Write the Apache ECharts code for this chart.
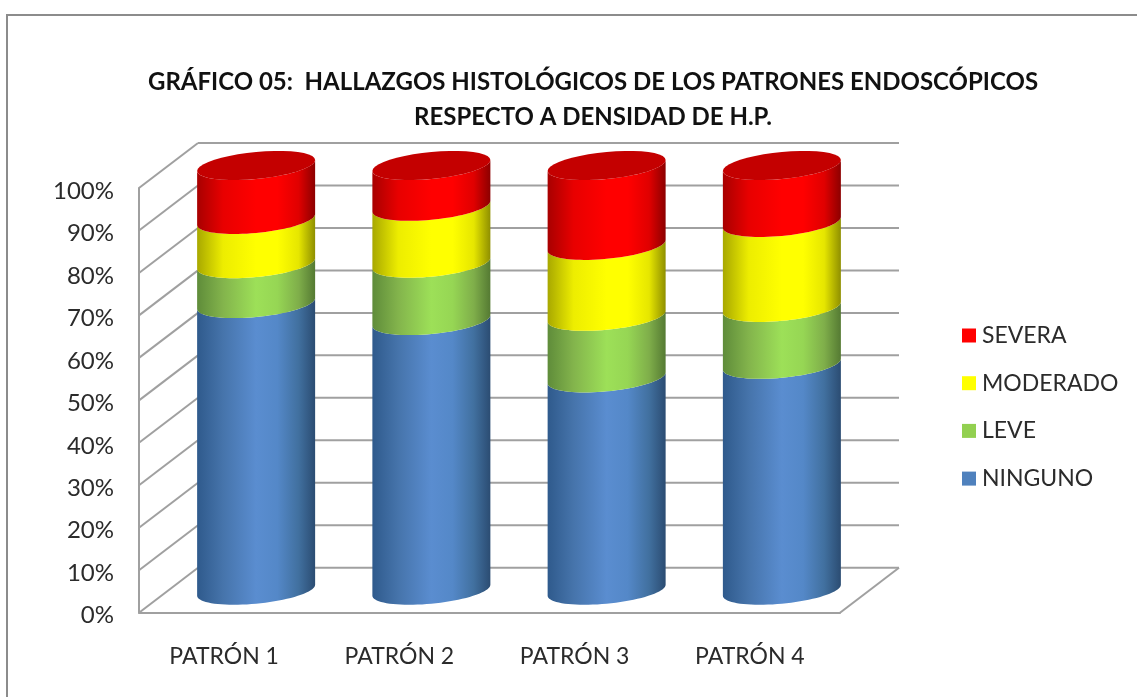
<!DOCTYPE html>
<html>
<head>
<meta charset="utf-8">
<title>Gráfico 05</title>
<style>
  html, body { margin: 0; padding: 0; background: #fff; }
  #chart { width: 1137px; height: 697px; }
</style>
</head>
<body>
<div id="chart"></div>
<script src="https://cdn.jsdelivr.net/npm/echarts@6/dist/echarts.min.js"></script>
<script>
const categories = ['PATRÓN 1', 'PATRÓN 2', 'PATRÓN 3', 'PATRÓN 4']
const ninguno = [67.5, 63.5, 50.0, 53.2]
const leve = [9.4, 13.5, 14.5, 13.4]
const moderado = [10.4, 13.4, 16.7, 20.0]
const severa = [12.7, 9.6, 18.8, 13.4]
const gridTicks = [0, 10, 20, 30, 40, 50, 60, 70, 80, 90, 100]

// profundidad del piso 3D en px
const depthX = 59
const depthY = 45
const wallColor = '#a0a0a0'
const fontName = 'Lato'
const textColor = '#2b2b2b'

// [nombre, valores, color leyenda, degradado del cilindro]
const stackDefs = [
  ['NINGUNO', ninguno, '#4f81bd', ['#2f5a8c', '#4674ab', '#5a8dd0', '#5488c8', '#41709f', '#2b4c72']],
  ['LEVE', leve, '#92d050', ['#5f8c3a', '#83b44c', '#9de058', '#96d654', '#7fae4a', '#557a33']],
  ['MODERADO', moderado, '#ffff00', ['#a8a800', '#eded00', '#ffff00', '#ffff00', '#e6e600', '#8f8f00']],
  ['SEVERA', severa, '#ff0000', ['#a80000', '#e80000', '#ff0000', '#ff0000', '#e00000', '#8c0000']]
]
const gradOffsets = [0, 0.22, 0.5, 0.68, 0.86, 1]

const ellipseA = 59
const ellipseB = 13.5
const ellipseC = -5.5

const arcPoints = (cx, cy, from, to) => {
  const pts = []
  const n = 40
  for (let i = 0; i <= n; i++) {
    const t = from + ((to - from) * i) / n
    pts.push([
      cx + ellipseA * Math.cos(t),
      cy + ellipseB * Math.sin(t) + ellipseC * Math.cos(t)
    ])
  }
  return pts
}

const renderCylinder = (def, isTop) => (params, api) => {
  const low = api.coord([api.value(0), api.value(1)])
  const high = api.coord([api.value(0), api.value(2)])
  const cx = low[0] + depthX / 2
  const cy0 = low[1] - depthY / 2
  const cy1 = high[1] - depthY / 2
  const children = [
    {
      type: 'polygon',
      shape: { points: arcPoints(cx, cy1, 0, Math.PI).concat(arcPoints(cx, cy0, Math.PI, 0)) },
      style: {
        fill: {
          type: 'linear', x: 0, y: 0, x2: 1, y2: 0,
          colorStops: def[3].map((c, i) => ({ offset: gradOffsets[i], color: c }))
        }
      }
    }
  ]
  if (isTop) {
    children.push({
      type: 'polygon',
      shape: { points: arcPoints(cx, cy1, 0, Math.PI * 2) },
      style: { fill: '#c40000' }
    })
  }
  return { type: 'group', children }
}

const renderWall = (params, api) => {
  const sys = params.coordSys
  const y = api.coord([0, api.value(1)])[1]
  const lineStyle = { stroke: wallColor, lineWidth: 2 }
  const children = [
    {
      type: 'line',
      shape: { x1: sys.x, y1: y, x2: sys.x + depthX, y2: y - depthY },
      style: lineStyle
    },
    {
      type: 'line',
      shape: { x1: sys.x + depthX, y1: y - depthY, x2: sys.x + sys.width + depthX, y2: y - depthY },
      style: lineStyle
    }
  ]
  if (api.value(1) === 0) {
    children.push({
      type: 'line',
      shape: { x1: sys.x + sys.width, y1: y, x2: sys.x + sys.width + depthX, y2: y - depthY },
      style: lineStyle
    })
  }
  return { type: 'group', children }
}

const running = categories.map(() => 0)
const cylinderSeries = stackDefs.map((def, s) => ({
  name: def[0],
  type: 'custom',
  color: def[2],
  z: 3 + s,
  silent: true,
  encode: { x: 0, y: [1, 2] },
  renderItem: renderCylinder(def, s === stackDefs.length - 1),
  data: def[1].map((v, i) => {
    const base = running[i]
    running[i] = base + v
    return [i, base, running[i]]
  })
}))

const chart = echarts.init(document.getElementById('chart'), null, { renderer: 'canvas' })
chart.setOption({
  animation: false,
  backgroundColor: '#fff',
  title: {
    text: 'GRÁFICO 05:  HALLAZGOS HISTOLÓGICOS DE LOS PATRONES ENDOSCÓPICOS\nRESPECTO A DENSIDAD DE H.P.',
    left: 588,
    top: 60,
    textAlign: 'center',
    textStyle: {
      fontFamily: fontName,
      fontWeight: 'bold',
      fontSize: 24,
      lineHeight: 35,
      color: '#111'
    }
  },
  legend: {
    orient: 'vertical',
    left: 957,
    top: 319,
    icon: 'rect',
    itemWidth: 14,
    itemHeight: 14,
    itemGap: 24.7,
    selectedMode: false,
    data: ['SEVERA', 'MODERADO', 'LEVE', 'NINGUNO'],
    textStyle: { fontFamily: fontName, fontSize: 23, color: textColor, padding: [0, 0, 0, 1] }
  },
  graphic: [
    {
      type: 'polyline',
      shape: { points: [[7, 700], [7, 15], [1140, 15]] },
      style: { stroke: '#8c8c8c', lineWidth: 2, fill: null },
      silent: true
    }
  ],
  grid: { left: 139, right: 297, top: 188, bottom: 84.3 },
  xAxis: {
    type: 'category',
    data: categories,
    axisTick: { show: false },
    axisLine: { lineStyle: { color: wallColor, width: 2 } },
    axisLabel: {
      margin: 32,
      fontFamily: fontName,
      fontSize: 23,
      color: textColor,
      padding: [0, 5, 0, 0]
    }
  },
  yAxis: {
    type: 'value',
    min: 0,
    max: 100,
    interval: 10,
    splitLine: { show: false },
    axisTick: { show: false },
    axisLine: { show: true, lineStyle: { color: wallColor, width: 2 } },
    axisLabel: {
      margin: 25,
      formatter: '{value}%',
      fontFamily: fontName,
      fontSize: 24,
      color: textColor,
      verticalAlign: 'top',
      lineHeight: 6
    }
  },
  series: [
    {
      name: 'pared',
      type: 'custom',
      z: 1,
      silent: true,
      encode: { x: 0, y: 1 },
      renderItem: renderWall,
      data: gridTicks.map((t) => [0, t])
    }
  ].concat(cylinderSeries)
})
</script>
</body>
</html>
